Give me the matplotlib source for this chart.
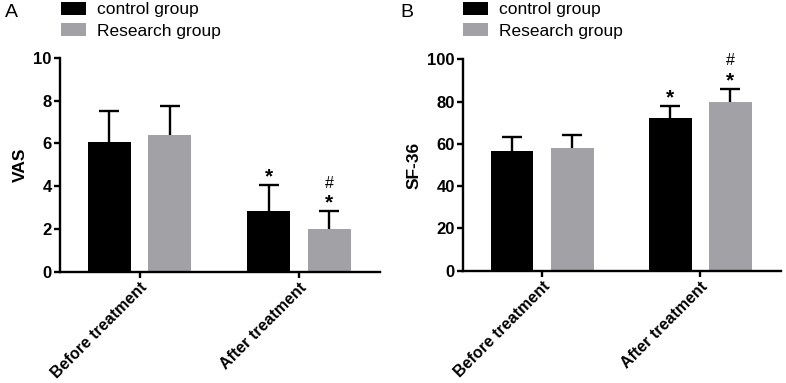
import matplotlib
matplotlib.use("Agg")
import matplotlib.pyplot as plt
import numpy as np
from matplotlib.patches import Patch

plt.rcParams['font.family'] = ['Liberation Sans', 'DejaVu Sans']

categories = ["Before treatment", "After treatment"]
groups = ["control group", "Research group"]

vas_mean = {"control group": [6.05, 2.85], "Research group": [6.42, 2.0]}
vas_sd = {"control group": [1.45, 1.22], "Research group": [1.33, 0.82]}

sf_mean = {"control group": [56.8, 72.4], "Research group": [57.9, 79.7]}
sf_sd = {"control group": [6.5, 5.6], "Research group": [6.2, 6.3]}

# significance marks per group and category
vas_marks = {"control group": ["", "*"], "Research group": ["", "*#"]}
sf_marks = {"control group": ["", "*"], "Research group": ["", "*#"]}

colors = {"control group": "#000000", "Research group": "#a2a2a6"}
offsets = {"control group": -0.19, "Research group": 0.19}
width = 0.27

W, H = 786, 383
fig = plt.figure(figsize=(W / 100, H / 100), dpi=100)

axA = fig.add_axes([60 / W, 1 - 271.7 / H, 320 / W, (271.7 - 58) / H])
axB = fig.add_axes([463 / W, 1 - 270.7 / H, 318 / W, (270.7 - 59.3) / H])


def draw(ax, means, sds, marks, ylim, yticks, ylabel):
    x = np.arange(len(categories))
    for g in groups:
        xs = x + offsets[g]
        ax.bar(xs, means[g], width=width, color=colors[g], zorder=2)
        err = [np.zeros(len(categories)), sds[g]]
        _, caps, _ = ax.errorbar(xs, means[g], yerr=err, fmt='none', ecolor='black',
                                 elinewidth=1.7, capsize=7, capthick=1.7, zorder=1)
        if len(caps) == 2:
            caps[0].set_visible(False)
        for i, m in enumerate(marks[g]):
            if not m:
                continue
            top = means[g][i] + sds[g][i]
            ax.annotate("*", (xs[i], top), xytext=(0, -1), textcoords='offset points',
                        ha='center', va='bottom', fontsize=15, fontweight='bold')
            if "#" in m:
                ax.annotate("#", (xs[i], top), xytext=(0, 15), textcoords='offset points',
                            ha='center', va='bottom', fontsize=11.5)
    ax.set_xlim(-0.5, 1.51)
    ax.set_ylim(*ylim)
    ax.set_yticks(yticks)
    ax.set_xticks(x)
    ax.set_xticklabels(categories, rotation=45, ha='right', rotation_mode='anchor',
                       fontsize=11.5, fontweight='bold')
    for lab in ax.get_yticklabels():
        lab.set_fontweight('bold')
        lab.set_fontsize(12)
    ax.set_ylabel(ylabel, fontsize=12.5, fontweight='bold', labelpad=4)
    for s in ['top', 'right']:
        ax.spines[s].set_visible(False)
    for s in ['left', 'bottom']:
        ax.spines[s].set_linewidth(1.7)
    ax.tick_params(axis='both', width=1.7, length=4, pad=2)


draw(axA, vas_mean, vas_sd, vas_marks, (0, 10), [0, 2, 4, 6, 8, 10], "VAS")
draw(axB, sf_mean, sf_sd, sf_marks, (0, 100), [0, 20, 40, 60, 80, 100], "SF-36")

handles = [Patch(facecolor=colors[g], edgecolor='none', label=g) for g in groups]
for xpx, letter, lx in [(61, "A", 5), (463, "B", 400)]:
    fig.legend(handles=handles, loc='upper left',
               bbox_to_anchor=(xpx / W, 1 - 2 / H), frameon=False,
               fontsize=12.5, handlelength=1.45, handleheight=0.75,
               handletextpad=0.65, labelspacing=0.35, borderpad=0, borderaxespad=0)
    fig.text(lx / W, 1 - 4 / H, letter, fontsize=14, ha='left', va='top')

fig.savefig("out.png", dpi=100)
